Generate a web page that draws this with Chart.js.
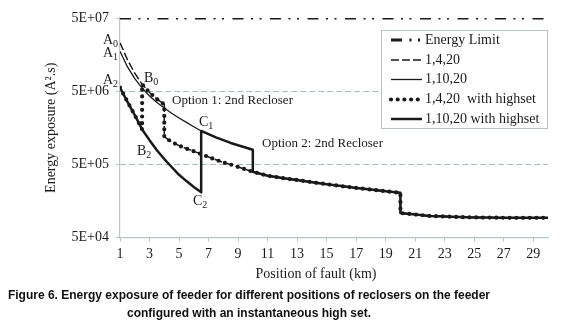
<!DOCTYPE html>
<html>
<head>
<meta charset="utf-8">
<script src="https://cdn.jsdelivr.net/npm/chart.js@4.4.0/dist/chart.umd.min.js"></script>
<style>
  html, body { margin: 0; padding: 0; background: #fff; }
  #wrap { position: relative; width: 580px; height: 326px; }
  #caption {
    position: absolute; left: 0; top: 286px; width: 498px;
    text-align: center; white-space: nowrap;
    font: bold 12px "Liberation Sans", Arial, sans-serif;
    line-height: 18px; color: #111;
  }
</style>
</head>
<body>
<div id="wrap">
  <canvas id="chart" width="580" height="326"></canvas>
  <div id="caption">Figure 6. Energy exposure of feeder for different positions of reclosers on the feeder<br>configured with an instantaneous high set.</div>
</div>
<script>
// Values (energy exposure, A^2.s)
const kmUpper = [1, 1.5, 2, 2.5, 3, 3.5, 4, 4.5, 5, 5.5, 6, 6.5, 7, 7.5, 8, 8.5, 9, 9.5, 10];
const upper1420 = [2.3e7, 1.35e7, 8.8e6, 6.2e6, 4.8e6, 3.9e6, 3.3e6];
const upper11020 = [1.75e7, 1.08e7, 7.4e6, 5.5e6, 4.3e6, 3.5e6, 2.95e6, 2.5e6, 2.15e6, 1.87e6,
  1.63e6, 1.43e6, 1.29e6, 1.17e6, 1.07e6, 9.8e5, 9.1e5, 8.5e5, 7.9e5];
const highsetCurve = [5.6e6, 3.6e6, 2.35e6, 1.5e6, 1.07e6, 7.8e5, 5.9e5, 4.6e5, 3.6e5, 2.95e5, 2.45e5, 2.07e5];

const kmLower = [4, 4.5, 5, 5.5, 6, 6.5, 7, 7.5, 8, 8.5, 9, 9.5, 10, 11, 12, 13, 14, 15, 16, 17, 18, 19, 20];
const lowerCurve = [1.19e6, 1.01e6, 9.0e5, 8.2e5, 7.55e5, 6.9e5, 6.3e5, 5.77e5, 5.3e5, 4.97e5, 4.6e5, 4.27e5,
  3.95e5, 3.5e5, 3.25e5, 3.05e5, 2.85e5, 2.68e5, 2.52e5, 2.38e5, 2.26e5, 2.14e5, 2.04e5];

const kmTail = [20, 21, 22, 23, 24, 25, 26, 27, 28, 29, 30];
const tailCurve = [1.08e5, 1.03e5, 9.85e4, 9.7e4, 9.5e4, 9.4e4, 9.35e4, 9.3e4, 9.3e4, 9.3e4, 9.3e4];

const energyLimit = 5e7;
const kmRange = [1, 30];
const recloser1 = 4, recloser2 = 10, recloserEnd = 20;
const highsetTrip1 = 2.5, highsetTrip2 = 6.5;

const xTicks = [1, 3, 5, 7, 9, 11, 13, 15, 17, 19, 21, 23, 25, 27, 29];
const yTicks = [5e4, 5e5, 5e6, 5e7];
const yTickLabels = ['5E+04', '5E+05', '5E+06', '5E+07'];

const seriesNames = ['Energy Limit', '1,4,20', '1,10,20', '1,4,20  with highset', '1,10,20 with highset'];

// pick the part of a curve between two fault positions
function segment(km, vals, from, to) {
  const out = [];
  km.forEach((k, i) => {
    if (k >= from && k <= to && vals[i] !== undefined) out.push({ x: k, y: vals[i] });
  });
  return out;
}

const lowerA = segment(kmLower, lowerCurve, recloser1, recloserEnd);
const lowerB = segment(kmLower, lowerCurve, recloser2, recloserEnd);
const tail = segment(kmTail, tailCurve, recloserEnd, kmRange[1]);

const s1420 = [...segment(kmUpper, upper1420, 1, recloser1), ...lowerA, ...tail];
const s11020 = [...segment(kmUpper, upper11020, 1, recloser2), ...lowerB, ...tail];
const sHs1420 = [...segment(kmUpper, highsetCurve, 1, highsetTrip1),
  ...segment(kmUpper, upper1420, highsetTrip1, recloser1), ...lowerA, ...tail];
const sHs11020 = [...segment(kmUpper, highsetCurve, 1, highsetTrip2),
  ...segment(kmUpper, upper11020, highsetTrip2, recloser2), ...lowerB, ...tail];
const sLimit = kmRange.map(k => ({ x: k, y: energyLimit }));

const SERIF = '"Liberation Serif", "Times New Roman", serif';
const AXIS = '#b6c7c3';
const GRID = '#a9bcb9';
const INK = '#1a1a1a';

// line styles, shared by the chart and the legend
const styles = [
  { width: 2.8, dash: [11, 7.5, 2, 6.5, 2, 8.5], cap: 'butt' },
  { width: 1.5, dash: [8, 3], cap: 'butt' },
  { width: 1.3, dash: [], cap: 'butt' },
  { width: 4.2, dash: [0, 6.7], cap: 'round' },
  { width: 2.5, dash: [], cap: 'butt' }
];
const seriesData = [sLimit, s1420, s11020, sHs1420, sHs11020];
const drawOrder = [4, 1, 2, 0, 3];

const datasets = seriesData.map((d, i) => ({
  label: seriesNames[i],
  data: d,
  borderColor: INK,
  borderWidth: styles[i].width,
  borderDash: styles[i].dash,
  borderCapStyle: styles[i].cap,
  borderJoinStyle: 'round',
  pointRadius: 0,
  fill: false,
  tension: 0,
  order: drawOrder[i]
}));

function subLabel(ctx, main, sub, x, y) {
  ctx.font = '14px ' + SERIF;
  ctx.fillText(main, x, y);
  const w = ctx.measureText(main).width;
  ctx.font = '10px ' + SERIF;
  ctx.fillText(sub, x + w, y + 3);
}

const annotations = {
  id: 'annotations',
  afterDraw(chart) {
    const ctx = chart.ctx;
    ctx.save();
    ctx.fillStyle = INK;
    ctx.textBaseline = 'alphabetic';
    ctx.textAlign = 'left';

    // point labels
    subLabel(ctx, 'A', '0', 103, 44);
    subLabel(ctx, 'A', '1', 103, 57);
    subLabel(ctx, 'A', '2', 103, 84);
    subLabel(ctx, 'B', '0', 144, 82);
    subLabel(ctx, 'B', '2', 137, 155);
    subLabel(ctx, 'C', '1', 199, 126);
    subLabel(ctx, 'C', '2', 193, 205);

    ctx.font = '13px ' + SERIF;
    ctx.fillText('Option 1: 2nd Recloser', 172, 104);
    ctx.fillText('Option 2: 2nd Recloser', 262, 147);

    // x axis title
    ctx.font = '14px ' + SERIF;
    ctx.textAlign = 'center';
    ctx.textBaseline = 'middle';
    ctx.fillText('Position of fault (km)', 316, 274);

    // legend box
    ctx.fillStyle = '#fff';
    ctx.fillRect(381, 30, 167, 99);
    ctx.strokeStyle = '#b9c2c0';
    ctx.lineWidth = 1;
    ctx.setLineDash([]);
    ctx.strokeRect(381.5, 30.5, 166, 98);

    const rowY = [40, 60, 79.5, 99.5, 119];
    ctx.textAlign = 'left';
    rowY.forEach((y, i) => {
      const st = styles[i];
      ctx.beginPath();
      ctx.strokeStyle = INK;
      ctx.lineWidth = st.width;
      ctx.setLineDash(st.dash);
      ctx.lineCap = st.cap;
      ctx.moveTo(391, y);
      ctx.lineTo(422, y);
      ctx.stroke();
      ctx.setLineDash([]);
      ctx.fillStyle = INK;
      ctx.font = '14px ' + SERIF;
      ctx.fillText(seriesNames[i], 425, y);
    });
    ctx.restore();
  }
};

new Chart(document.getElementById('chart'), {
  type: 'line',
  data: { datasets },
  options: {
    responsive: false,
    animation: false,
    devicePixelRatio: 1,
    layout: { padding: { left: 0, right: 32, top: 18, bottom: 43.5 } },
    plugins: {
      legend: { display: false },
      tooltip: { enabled: false }
    },
    scales: {
      x: {
        type: 'linear',
        min: kmRange[0],
        max: kmRange[1],
        afterBuildTicks: (scale) => { scale.ticks = xTicks.map(v => ({ value: v })); },
        afterFit: (scale) => { scale.height = 45; },
        ticks: {
          autoSkip: false,
          maxRotation: 0,
          padding: 4,
          color: INK,
          font: { family: SERIF, size: 14 }
        },
        grid: { drawOnChartArea: false, tickLength: 4, color: AXIS },
        border: { color: AXIS, width: 1.2 }
      },
      y: {
        type: 'logarithmic',
        min: yTicks[0],
        max: yTicks[yTicks.length - 1],
        afterBuildTicks: (scale) => { scale.ticks = yTicks.map(v => ({ value: v })); },
        afterFit: (scale) => { scale.width = 120; },
        ticks: {
          padding: 7,
          color: INK,
          font: { family: SERIF, size: 14 },
          callback: (value, index) => yTickLabels[index]
        },
        grid: {
          tickLength: 4,
          tickColor: AXIS,
          color: (c) => (c.tick && (c.tick.value === yTicks[1] || c.tick.value === yTicks[2])) ? GRID : 'rgba(0,0,0,0)'
        },
        border: { color: AXIS, width: 1.2, dash: [6, 3] },
        title: {
          display: true,
          text: 'Energy exposure (A\u00B2.s)',
          color: INK,
          font: { family: SERIF, size: 14 },
          padding: { top: 43, bottom: 0 }
        }
      }
    }
  },
  plugins: [annotations]
});
</script>
</body>
</html>
